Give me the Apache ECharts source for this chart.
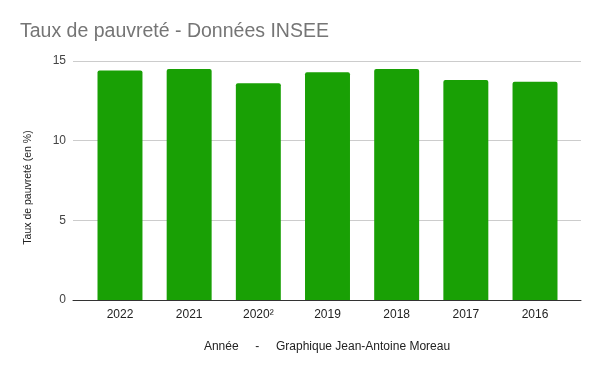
<!DOCTYPE html>
<html>
<head>
<meta charset="utf-8">
<script src="https://cdn.jsdelivr.net/npm/echarts@6/dist/echarts.min.js"></script>
<style>html,body{margin:0;padding:0;background:#fff}#c{width:600px;height:371px}</style>
</head>
<body>
<div id="c"></div>
<script>
const titleText = 'Taux de pauvreté - Données INSEE';
const categories = ['2022', '2021', '2020²', '2019', '2018', '2017', '2016'];
const tauxPauvrete = [14.4, 14.5, 13.6, 14.3, 14.5, 13.8, 13.7];
const yAxisName = 'Taux de pauvreté (en %)';
const xAxisName = 'Année     -     Graphique Jean-Antoine Moreau';
const yMin = 0, yMax = 15, yInterval = 5;

const font = '"Liberation Sans", Arial, sans-serif';
const chart = echarts.init(document.getElementById('c'), null, {renderer: 'canvas'});
chart.setOption({
  animation: false,
  backgroundColor: '#ffffff',
  title: {
    text: titleText,
    left: 20, top: 22, padding: 0,
    textStyle: {fontFamily: font, fontSize: 19.5, fontWeight: 'normal', color: '#757575'}
  },
  grid: [
    {left: 73, right: 19, top: 61, bottom: 71},
    {left: 85.4, right: 30.4, top: 61, bottom: 71}
  ],
  xAxis: [
    {
      gridIndex: 0, type: 'value', min: 0, max: 1,
      axisLine: {show: true, onZero: false, lineStyle: {color: '#333333', width: 1}},
      axisTick: {show: false}, axisLabel: {show: false}, splitLine: {show: false},
      name: xAxisName, nameLocation: 'middle', nameGap: 41,
      nameTextStyle: {fontFamily: font, fontSize: 12, color: '#222222'}
    },
    {
      gridIndex: 1, type: 'category', data: categories,
      axisLine: {show: false}, axisTick: {show: false},
      axisLabel: {fontFamily: font, fontSize: 12, color: '#222222', margin: 9}
    }
  ],
  yAxis: [
    {
      gridIndex: 0, type: 'value', min: yMin, max: yMax, interval: yInterval,
      axisLine: {show: false}, axisTick: {show: false},
      axisLabel: {fontFamily: font, fontSize: 12, color: '#444444', margin: 7},
      splitLine: {show: true, lineStyle: {color: '#cccccc', width: 1}},
      name: yAxisName, nameLocation: 'middle', nameRotate: 90, nameGap: 39,
      nameTextStyle: {fontFamily: font, fontSize: 10.5, color: '#222222', padding: [0, 14, 0, 0]}
    },
    {
      gridIndex: 1, type: 'value', min: yMin, max: yMax, interval: yInterval, show: false
    }
  ],
  series: [{
    type: 'bar',
    xAxisIndex: 1, yAxisIndex: 1,
    data: tauxPauvrete,
    barWidth: '65%',
    itemStyle: {color: '#19a005', borderRadius: [2, 2, 0, 0]}
  }]
});
</script>
</body>
</html>
